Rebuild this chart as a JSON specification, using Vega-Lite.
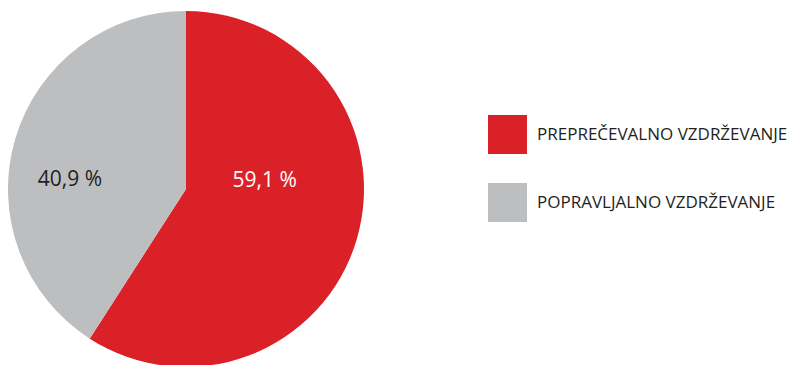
{
  "$schema": "https://vega.github.io/schema/vega-lite/v6.json",
  "autosize": "none",
  "width": 372,
  "height": 378,
  "padding": {"left": 0, "top": 0, "right": 417, "bottom": 0},
  "background": "white",
  "config": {"view": {"stroke": null}, "font": "Open Sans"},
  "data": {"values": [
    {"cat": "PREPREČEVALNO VZDRŽEVANJE", "value": 59.1, "label": "59,1 %", "k": 1},
    {"cat": "POPRAVLJALNO VZDRŽEVANJE", "value": 40.9, "label": "40,9 %", "k": 2}
  ]},
  "encoding": {
    "theta": {"field": "value", "type": "quantitative", "stack": true},
    "order": {"field": "k", "type": "quantitative"}
  },
  "layer": [
    {
      "mark": {"type": "arc", "radius": 178, "stroke": null},
      "encoding": {
        "color": {
          "field": "cat", "type": "nominal",
          "scale": {"domain": ["PREPREČEVALNO VZDRŽEVANJE", "POPRAVLJALNO VZDRŽEVANJE"], "range": ["#DA2128", "#BDBEC0"]},
          "legend": {
            "title": null,
            "orient": "none",
            "legendX": 488,
            "legendY": 115,
            "padding": 0,
            "symbolType": "square",
            "symbolSize": 1521,
            "symbolStrokeWidth": 0,
            "rowPadding": 29,
            "labelOffset": 10,
            "labelFontSize": 17,
            "labelFont": "Open Sans",
            "labelColor": "#231F20",
            "labelLimit": 400,
            "encoding": {
              "symbols": {
                "fill": {"condition": {"test": "datum.value === 'POPRAVLJALNO VZDRŽEVANJE'", "value": "#D1D3D4"}, "value": "#DA2128"}
              }
            }
          }
        }
      }
    },
    {
      "mark": {"type": "text", "radius": 82, "dy": -31, "fontSize": 21, "fill": "white", "font": "Open Sans"},
      "encoding": {
        "text": {"condition": {"test": "datum.k === 1", "field": "label"}, "value": ""}
      }
    },
    {
      "mark": {"type": "text", "radius": 121, "dy": 25, "fontSize": 21, "fill": "#231F20", "font": "Open Sans"},
      "encoding": {
        "text": {"condition": {"test": "datum.k === 2", "field": "label"}, "value": ""}
      }
    }
  ]
}
